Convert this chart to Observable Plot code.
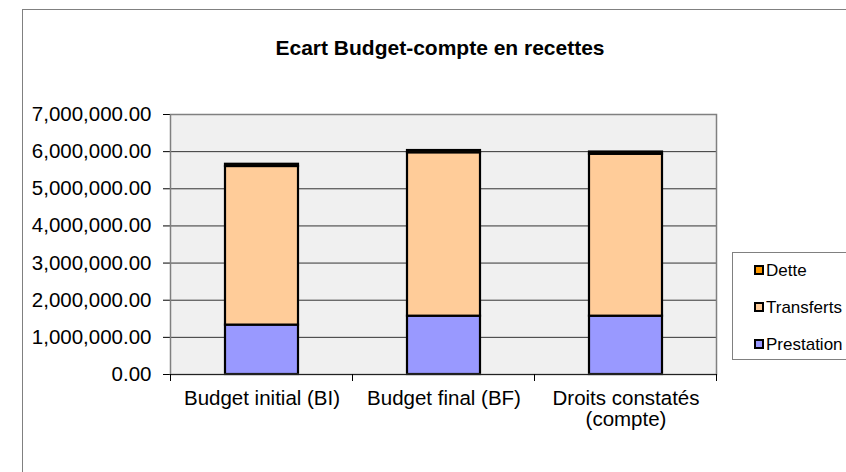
<!DOCTYPE html>
<html>
<head>
<meta charset="utf-8">
<script src="https://cdn.jsdelivr.net/npm/d3@7"></script>
<script src="https://cdn.jsdelivr.net/npm/@observablehq/plot@0.6"></script>
<style>
  html, body { margin: 0; padding: 0; background: #fff; }
  #wrap { position: relative; width: 846px; height: 472px; overflow: hidden; font-family: "Liberation Sans", Arial, sans-serif; }
  #border { position: absolute; left: 22px; top: 9px; width: 900px; height: 600px; border: 1px solid #808080; box-sizing: border-box; }
  #title { position: absolute; left: 22px; width: 836px; top: 36px; text-align: center; font-weight: bold; font-size: 21px; color: #000; }
  #legend { position: absolute; left: 732px; top: 252px; width: 130px; height: 108px; border: 1px solid #808080; box-sizing: border-box; background: #fff; }
  .item { position: absolute; left: 21px; font-size: 17px; line-height: 20px; color: #000; white-space: nowrap; }
  .sw { display: inline-block; width: 6px; height: 6px; border: 2px solid #000; margin-right: 2px; vertical-align: 1px; }
  #chart { position: absolute; left: 0; top: 0; }
</style>
</head>
<body>
<div id="wrap">
  <div id="border"></div>
  <div id="chart"></div>
  <div id="title"></div>
  <div id="legend"></div>
</div>
<script>
const categories = ["Budget initial (BI)", "Budget final (BF)", "Droits constatés (compte)"];
const categoryLabels = ["Budget initial (BI)", "Budget final (BF)", "Droits constatés\n(compte)"];
const series = ["Prestation", "Transferts", "Dette"];
const prestation = [1330000, 1570000, 1570000];
const transferts = [4270000, 4400000, 4360000];
const dette = [60000, 60000, 60000];
const yTicks = [0, 1000000, 2000000, 3000000, 4000000, 5000000, 6000000, 7000000];
const colors = ["#9999FF", "#FFCC99", "#FF9900"];
const legendOrder = ["Dette", "Transferts", "Prestation"];
const titleText = "Ecart Budget-compte en recettes";

const valuesBySeries = {Prestation: prestation, Transferts: transferts, Dette: dette};
const data = [];
series.forEach(s => categories.forEach((c, i) => data.push({category: c, series: s, value: valuesBySeries[s][i]})));

const chart = Plot.plot({
  width: 846,
  height: 472,
  marginLeft: 170,
  marginRight: 130,
  marginTop: 114,
  marginBottom: 98,
  style: {background: "transparent", fontFamily: "'Liberation Sans', Arial, sans-serif", fontSize: "20.5px", color: "#000"},
  x: {domain: categories, paddingInner: 0.6, paddingOuter: 0.3, axis: null},
  y: {domain: [0, 7000000], ticks: yTicks, tickFormat: d3.format(",.2f"), label: null, tickSize: 7, tickPadding: 12, line: true},
  color: {domain: series, range: colors},
  marks: [
    Plot.frame({fill: "#f0f0f0", stroke: "none"}),
    Plot.ruleY(yTicks, {stroke: "#333", strokeWidth: 1}),
    Plot.barY(data, {x: "category", y: "value", fill: "series", order: series, stroke: "#000", strokeWidth: 2.2}),
    Plot.frame({stroke: "#808080", strokeWidth: 1.5}),
    Plot.ruleY([0], {stroke: "#222", strokeWidth: 1}),
    Plot.text(categories, {x: d => d, text: (d, i) => categoryLabels[i], frameAnchor: "bottom", lineAnchor: "top", dy: 15, fontSize: 20.5, lineHeight: 1.05, fill: "#000"})
  ]
});
document.getElementById("chart").appendChild(chart);

// category tick marks at band boundaries (Excel style)
const xs = chart.scale("x");
const ys = chart.scale("y");
const r0 = xs.range[0], r1 = xs.range[1];
const y0 = ys.apply(0);
const svg = d3.select(chart);
d3.range(categories.length + 1).forEach(i => {
  const x = Math.round(r0 + i * (r1 - r0) / categories.length) + 0.5;
  svg.append("line").attr("x1", x).attr("x2", x).attr("y1", y0).attr("y2", y0 + 7).attr("stroke", "#000");
});

document.getElementById("title").textContent = titleText;
const legend = d3.select("#legend");
legendOrder.forEach((s, i) => {
  const item = legend.append("div").attr("class", "item").style("top", (8 + i * 37) + "px");
  item.append("span").attr("class", "sw").style("background", colors[series.indexOf(s)]);
  item.append("span").text(s);
});
</script>
</body>
</html>
